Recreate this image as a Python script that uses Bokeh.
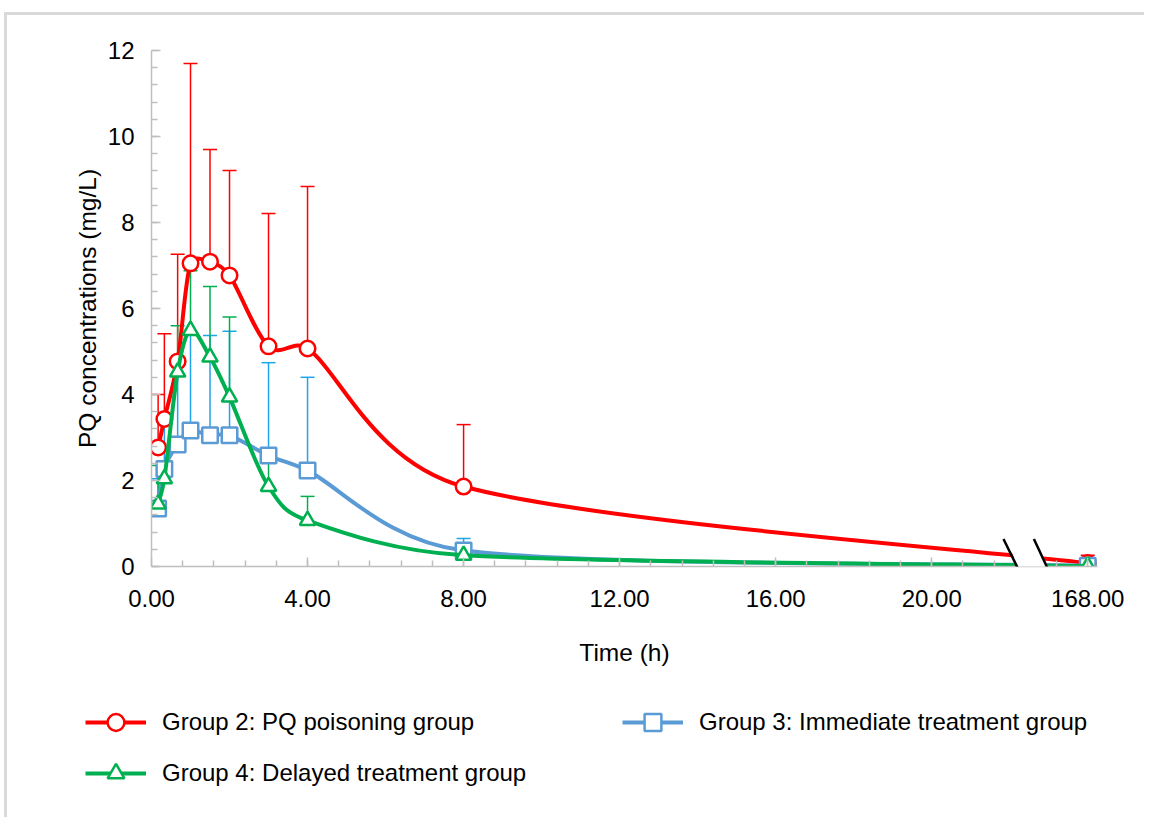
import math
from bokeh.plotting import figure
from bokeh.models import (Range1d, FixedTicker, SingleIntervalTicker, Legend,
                          LegendItem, PolyAnnotation, Arrow)
from bokeh.embed import file_html
from bokeh.resources import INLINE

FONT = "Liberation Sans"

# ---------------- data ----------------
times = [0.17, 0.33, 0.67, 1.0, 1.5, 2.0, 3.0, 4.0, 8.0, 168.0]

g2_mean = [2.77, 3.43, 4.77, 7.05, 7.09, 6.77, 5.12, 5.07, 1.86, 0.08]
g2_sd   = [1.23, 1.98, 2.49, 4.65, 2.61, 2.44, 3.09, 3.77, 1.44, 0.18]

g3_mean = [1.35, 2.27, 2.84, 3.16, 3.05, 3.05, 2.58, 2.23, 0.37, 0.02]
g3_sd   = [0.69, 1.13, 1.61, 2.29, 2.32, 2.42, 2.16, 2.17, 0.28, 0.03]

g4_mean = [1.45, 2.04, 4.52, 5.49, 4.87, 3.94, 1.86, 1.07, 0.26, 0.01]
g4_sd   = [0.90, 0.36, 1.08, 1.39, 1.64, 1.86, 0.69, 0.56, 0.19, 0.02]

labels = ["Group 2: PQ poisoning group",
          "Group 3: Immediate treatment group",
          "Group 4: Delayed treatment group"]

x_tick_values = [0, 4, 8, 12, 16, 20, 24]
x_tick_labels = ["0.00", "4.00", "8.00", "12.00", "16.00", "20.00", "168.00"]

BREAK_POS = 24.0   # axis position at which the 168 h time point is shown


def axis_pos(t):
    return t if t < BREAK_POS else BREAK_POS


xd = [axis_pos(t) for t in times]

# pixel scale of the frame (used only to shape the smoothed curves)
PX_X, PX_Y = 39.0, 43.0


def smooth(xs, ys):
    """Excel-like smoothed line: cubic Bezier control points from neighbours,
    control arms limited relative to the segment length."""
    n = len(xs)
    out = dict(x0=[], y0=[], x1=[], y1=[], cx0=[], cy0=[], cx1=[], cy1=[])

    def arm(dx, dy, chord):
        L = math.hypot(dx * PX_X, dy * PX_Y)
        lim = 0.45 * chord
        if L > lim and L > 0:
            f = lim / L
            dx, dy = dx * f, dy * f
        return dx, dy

    for i in range(n - 1):
        a = i - 1 if i > 0 else i
        d = i + 2 if i + 2 < n else i + 1
        chord = math.hypot((xs[i + 1] - xs[i]) * PX_X, (ys[i + 1] - ys[i]) * PX_Y)
        ax, ay = arm((xs[i + 1] - xs[a]) / 6, (ys[i + 1] - ys[a]) / 6, chord)
        bx, by = arm((xs[d] - xs[i]) / 6, (ys[d] - ys[i]) / 6, chord)
        out["x0"].append(xs[i]); out["y0"].append(ys[i])
        out["x1"].append(xs[i + 1]); out["y1"].append(ys[i + 1])
        out["cx0"].append(xs[i] + ax); out["cy0"].append(ys[i] + ay)
        out["cx1"].append(xs[i + 1] - bx); out["cy1"].append(ys[i + 1] - by)
    return out


# ---------------- main figure ----------------
p = figure(width=1140, height=680, output_backend="svg", toolbar_location=None,
           x_range=Range1d(0, 24.25), y_range=Range1d(0, 12),
           min_border_left=144, min_border_right=50,
           min_border_top=35, min_border_bottom=129)
p.styles = {"margin-top": "12px", "margin-left": "4px",
            "border-top": "3px solid #d9d9d9", "border-left": "3px solid #d9d9d9"}
p.outline_line_color = None
p.xgrid.visible = False
p.ygrid.visible = False
p.background_fill_color = "white"
p.border_fill_color = "white"

AXIS_C = "#bfbfbf"
for ax in (p.xaxis[0], p.yaxis[0]):
    ax.axis_line_color = AXIS_C
    ax.axis_line_width = 1.5
    ax.major_tick_line_color = AXIS_C
    ax.major_tick_line_width = 1.5
    ax.minor_tick_line_color = AXIS_C
    ax.minor_tick_line_width = 1.5
    ax.major_tick_in = 9
    ax.major_tick_out = 0
    ax.minor_tick_in = 6
    ax.minor_tick_out = 0
    ax.major_label_text_font = FONT
    ax.major_label_text_font_size = "24px"
    ax.major_label_text_color = "#000000"
    ax.axis_label_text_font = FONT
    ax.axis_label_text_font_size = "24.5px"
    ax.axis_label_text_font_style = "normal"
    ax.axis_label_text_color = "#000000"

p.yaxis.ticker = SingleIntervalTicker(interval=2, num_minor_ticks=5)
p.yaxis.axis_label = "PQ concentrations (mg/L)"
p.yaxis.major_label_standoff = 17
p.yaxis.axis_label_standoff = 4

p.xaxis.ticker = FixedTicker(ticks=x_tick_values,
                             minor_ticks=[round(0.8 * k, 2) for k in range(1, 31)])
p.xaxis.major_label_overrides = {v: s for v, s in zip(x_tick_values, x_tick_labels)}
p.xaxis.axis_label = "Time (h)"
p.xaxis.major_label_standoff = 23
p.xaxis.axis_label_standoff = 29

series = [
    (g2_mean, g2_sd, "#ff0000", "#ff0000", "circle"),
    (g3_mean, g3_sd, "#5b9bd5", "#1ea5ec", "square"),
    (g4_mean, g4_sd, "#00b050", "#00b050", "triangle"),
]

# error bars (upper only) behind the curves
for mean, sd, lc, ec, mk in series:
    top = [m + s for m, s in zip(mean, sd)]
    p.segment(x0=xd, y0=mean, x1=xd, y1=top, line_color=ec, line_width=1.5)
    p.scatter(x=xd, y=top, marker="dash", size=14, line_color=ec, line_width=1.5)

for mean, sd, lc, ec, mk in series:
    p.bezier(line_color=lc, line_width=4, line_cap="round", **smooth(xd, mean))
    p.scatter(x=xd, y=mean, marker=mk, size=15.5, line_color=lc,
              line_width=2.5, fill_color="white")

# axis break
gap = PolyAnnotation(xs=[21.9, 22.66, 23.04, 22.28], ys=[0.62, 0.62, -0.12, -0.12],
                     xs_units="data", ys_units="data", fill_color="white",
                     fill_alpha=1.0, line_color=None, level="overlay")
p.add_layout(gap)
for x_top, x_bot in ((21.84, 22.24), (22.62, 23.0)):
    p.add_layout(Arrow(x_start=x_top, y_start=0.64, x_end=x_bot, y_end=-0.1,
                       start=None, end=None, line_color="black", line_width=2.5,
                       level="overlay"))

# ---------------- legend strip (separate root, not frame-aligned) ----------------
lg = figure(width=1140, height=125, output_backend="svg", toolbar_location=None,
            x_range=Range1d(0, 1), y_range=Range1d(0, 1),
            x_axis_location=None, y_axis_location=None,
            min_border=0, min_border_left=0, min_border_right=0,
            min_border_top=0, min_border_bottom=0)
lg.styles = {"margin-left": "4px", "border-left": "3px solid #d9d9d9"}
lg.outline_line_color = None
lg.xgrid.visible = False
lg.ygrid.visible = False
lg.border_fill_color = "white"
lg.background_fill_color = "white"

items = []
for (mean, sd, lc, ec, mk), lab in zip(series, labels):
    # off-range keys: only their legend swatches are seen
    ln = lg.line(x=[-5, -4], y=[-5, -4], line_color=lc, line_width=4)
    sc = lg.scatter(x=[-5], y=[-5], marker=mk, size=15.5, line_color=lc,
                    line_width=2.5, fill_color="white")
    items.append(LegendItem(label=lab, renderers=[ln, sc]))


def add_legend(its, loc):
    leg = Legend(items=its, location=loc, orientation="vertical",
                 glyph_width=61, glyph_height=42, spacing=9, padding=0, margin=0,
                 label_standoff=16, label_text_font=FONT, label_text_font_size="24px",
                 label_text_color="#000000", border_line_color=None,
                 background_fill_alpha=0)
    lg.add_layout(leg, "center")


add_legend([items[0], items[2]], (78, 23))
add_legend([items[1]], (615, 74))

open("out.html", "w").write(file_html([p, lg], INLINE))
